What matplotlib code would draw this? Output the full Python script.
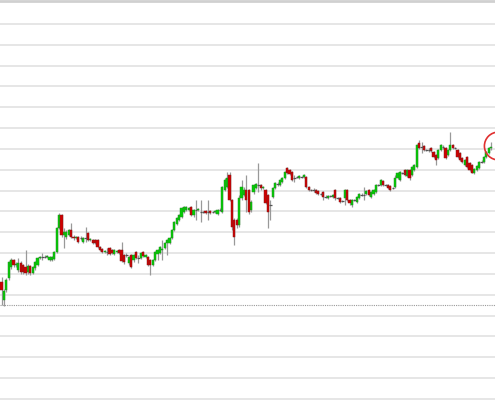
import matplotlib
matplotlib.use('Agg')
import matplotlib.pyplot as plt
import numpy as np

# candle data, price units (one grid step = 20.83)
opens = [
    118, 100, 110, 122, 133, 140, 135, 130, 137, 135,
    133, 128, 134, 127, 132, 135, 142, 143, 143, 143,
    140, 140, 141, 148, 172, 185, 165, 163, 165, 170,
    163, 162, 163, 162, 158, 162, 167, 160, 160, 160,
    160, 153, 151, 148, 148, 152, 150, 146, 148, 150,
    150, 145, 145, 137, 145, 140, 148, 142, 142, 148,
    143, 143, 140, 135, 140, 146, 147, 150, 152, 157,
    157, 162, 170, 176, 180, 183, 188, 190, 190, 193,
    185, 190, 190, 188, 188, 189, 188, 189, 188, 188,
    186, 190, 188, 210, 213, 225, 200, 180, 180, 175,
    202, 205, 210, 210, 190, 208, 212, 215, 215, 212,
    210, 205, 195, 203, 212, 216, 215, 218, 222, 232,
    230, 228, 222, 223, 222, 223, 223, 223, 213, 210,
    210, 210, 209, 206, 208, 203, 202, 204, 203, 210,
    202, 202, 199, 202, 210, 200, 195, 200, 198, 202,
    205, 205, 206, 210, 203, 206, 208, 215, 215, 219,
    215, 215, 214, 212, 213, 222, 220, 227, 230, 224,
    230, 225, 230, 233, 257, 253, 254, 250, 250, 252,
    248, 245, 242, 250, 253, 252, 245, 250, 255, 252,
    250, 247, 242, 235, 243, 237, 235, 227, 230, 232,
    238, 238, 243, 247, 252,
]
closes = [
    110, 109, 120, 138, 140, 135, 136, 137, 128, 128,
    127, 134, 127, 133, 138, 142, 143, 143, 143, 144,
    143, 143, 148, 172, 185, 165, 168, 168, 170, 163,
    162, 163, 158, 162, 162, 162, 160, 161, 157, 157,
    153, 150, 148, 149, 148, 146, 147, 150, 149, 147,
    139, 138, 145, 143, 133, 145, 142, 142, 147, 144,
    145, 135, 135, 140, 148, 150, 153, 151, 157, 160,
    162, 170, 178, 182, 185, 192, 193, 193, 192, 185,
    190, 190, 191, 188, 188, 187, 188, 187, 188, 189,
    190, 190, 213, 220, 222, 200, 173, 163, 175, 202,
    213, 210, 200, 188, 198, 215, 216, 215, 212, 213,
    197, 188, 195, 212, 217, 216, 220, 222, 228, 227,
    226, 220, 222, 223, 224, 223, 225, 213, 210, 210,
    210, 207, 206, 206, 203, 203, 204, 204, 205, 202,
    202, 198, 199, 210, 200, 197, 200, 200, 203, 206,
    205, 205, 209, 205, 208, 210, 215, 215, 220, 215,
    215, 212, 210, 212, 222, 227, 228, 227, 225, 230,
    222, 233, 235, 255, 252, 253, 250, 250, 250, 249,
    243, 240, 250, 255, 253, 242, 250, 255, 252, 252,
    243, 240, 238, 240, 233, 230, 227, 231, 234, 238,
    238, 243, 248, 252, 253,
]
highs = [
    123, 111, 122, 139, 142, 141, 138, 142, 139, 136,
    150, 136, 135, 134, 139, 143, 144, 147, 145, 145,
    144, 144, 149, 173, 187, 186, 172, 170, 171, 177,
    165, 164, 164, 164, 163, 173, 168, 162, 161, 161,
    161, 154, 152, 150, 152, 153, 151, 151, 150, 151,
    158, 146, 147, 144, 146, 146, 149, 145, 148, 149,
    146, 144, 141, 141, 149, 151, 154, 160, 158, 161,
    163, 171, 179, 183, 186, 193, 194, 194, 193, 194,
    191, 200, 192, 200, 189, 190, 200, 190, 189, 190,
    191, 192, 214, 222, 228, 228, 201, 182, 182, 205,
    220, 213, 225, 211, 200, 216, 217, 237, 216, 214,
    211, 206, 200, 213, 218, 218, 221, 223, 229, 233,
    231, 229, 225, 224, 225, 224, 226, 224, 214, 211,
    212, 211, 210, 207, 209, 205, 205, 205, 206, 211,
    203, 203, 200, 211, 211, 201, 201, 201, 204, 207,
    207, 213, 210, 211, 209, 211, 216, 216, 221, 220,
    216, 216, 215, 213, 225, 228, 229, 228, 231, 231,
    231, 234, 236, 256, 260, 258, 255, 251, 252, 253,
    249, 246, 251, 256, 255, 253, 251, 268, 256, 253,
    251, 248, 243, 241, 244, 238, 236, 232, 235, 239,
    240, 244, 249, 253, 258,
]
lows = [
    95, 94, 108, 120, 131, 133, 133, 128, 126, 126,
    125, 126, 125, 126, 130, 134, 141, 140, 142, 142,
    139, 139, 140, 147, 171, 163, 152, 161, 164, 162,
    160, 161, 157, 160, 157, 158, 159, 159, 156, 156,
    152, 149, 147, 147, 145, 145, 146, 145, 147, 146,
    138, 136, 143, 135, 132, 138, 141, 137, 141, 143,
    142, 134, 125, 134, 139, 140, 146, 140, 151, 145,
    156, 161, 169, 175, 179, 182, 187, 189, 189, 184,
    183, 180, 189, 178, 187, 186, 180, 186, 187, 187,
    185, 189, 187, 209, 212, 199, 170, 155, 172, 173,
    200, 204, 188, 186, 188, 206, 211, 208, 210, 211,
    196, 172, 180, 202, 211, 214, 214, 217, 221, 226,
    225, 219, 218, 222, 221, 222, 222, 212, 209, 209,
    208, 206, 205, 205, 200, 202, 201, 203, 202, 200,
    201, 197, 198, 195, 199, 195, 193, 199, 197, 201,
    204, 200, 205, 204, 202, 205, 207, 214, 214, 214,
    214, 211, 209, 211, 212, 221, 219, 226, 224, 223,
    220, 224, 229, 232, 251, 247, 249, 249, 248, 248,
    242, 235, 241, 249, 251, 241, 244, 249, 251, 251,
    242, 239, 237, 234, 232, 229, 227, 226, 229, 231,
    237, 237, 242, 246, 250,
]
prev_close = 95

opens = np.array(opens)
closes = np.array(closes)
highs = np.array(highs)
lows = np.array(lows)
idx = np.arange(len(closes))

fig = plt.figure(figsize=(4.95, 4.0), dpi=100)
ax = fig.add_axes([0, 0, 1, 1])
ax.set_facecolor('white')

# horizontal grid
for g in np.arange(376, 0, -20.83):
    ax.axhline(g, color='#e6e6e6', lw=1.4, zorder=0)
ax.axhline(399, color='#d0d0d0', lw=2, zorder=0)
ax.axhline(prev_close, color='#9a9a9a', lw=0.8, linestyle=(0, (1, 1)), zorder=1)

# wicks
ax.vlines(idx, lows, highs, color='#999999', lw=0.9, zorder=2)

up = closes > opens
down = closes < opens
flat = closes == opens
ax.bar(idx[up], (closes - opens)[up], bottom=opens[up], width=0.95,
       color='#00d000', edgecolor='#2a8a2a', linewidth=0.35, zorder=3)
ax.bar(idx[down], (opens - closes)[down], bottom=closes[down], width=0.95,
       color='#d00000', edgecolor='#802020', linewidth=0.35, zorder=3)
ax.hlines(closes[flat], idx[flat] - 0.5, idx[flat] + 0.5, color='#555555', lw=0.9, zorder=3)

# marker round the last candle
ax.scatter([idx[-1] + 3.0], [closes[-1] + 1], s=400, facecolors='none',
           edgecolors='#e03030', linewidths=1.2, zorder=4)

ax.set_xlim(-0.625, (495 - 1.5) / 2.4)
ax.set_ylim(0, 400)
ax.axis('off')

fig.savefig('out.png', dpi=100)
